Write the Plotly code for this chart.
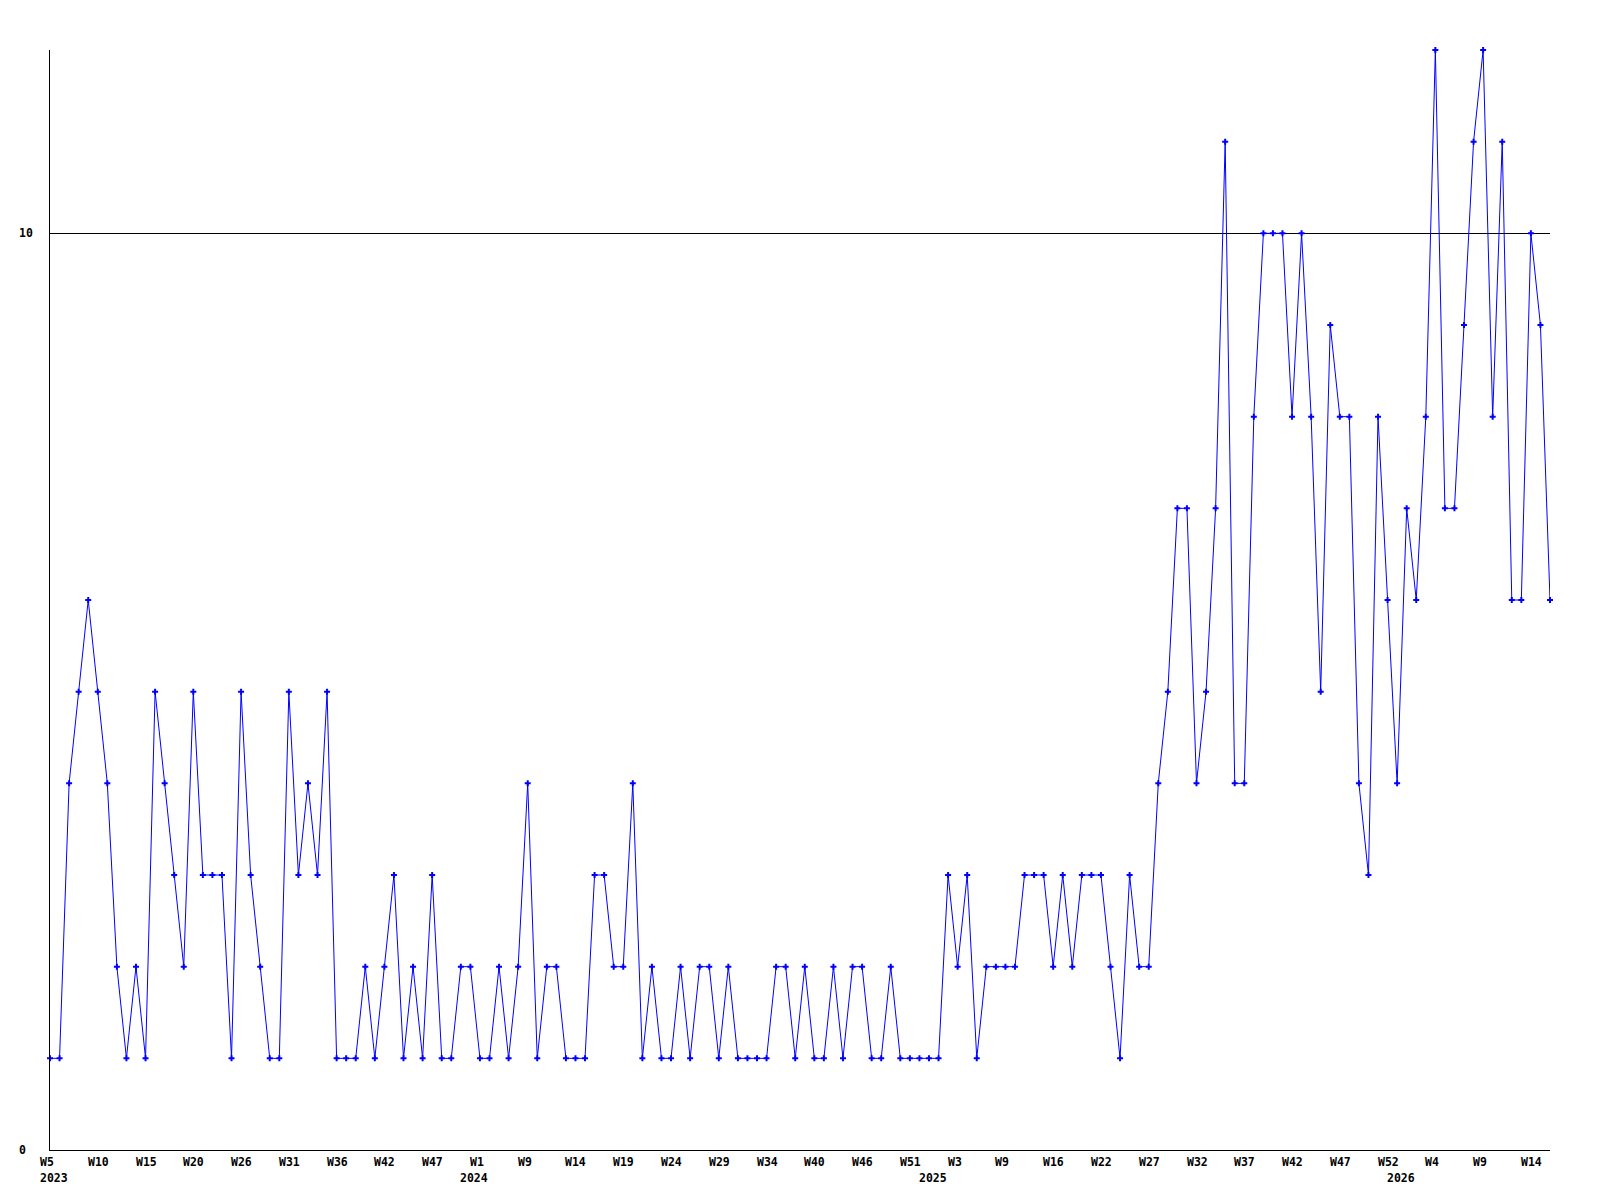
import plotly.graph_objects as go

# Weekly counts (one point per reported week, weeks without entries omitted)
counts = [
    1, 1, 4, 5, 6, 5, 4, 2, 1, 2, 1, 5, 4, 3, 2, 5, 3, 3, 3, 1,
    5, 3, 2, 1, 1, 5, 3, 4, 3, 5, 1, 1, 1, 2, 1, 2, 3, 1, 2, 1,
    3, 1, 1, 2, 2, 1, 1, 2, 1, 2, 4, 1, 2, 2, 1, 1, 1, 3, 3, 2,
    2, 4, 1, 2, 1, 1, 2, 1, 2, 2, 1, 2, 1, 1, 1, 1, 2, 2, 1, 2,
    1, 1, 2, 1, 2, 2, 1, 1, 2, 1, 1, 1, 1, 1, 3, 2, 3, 1, 2, 2,
    2, 2, 3, 3, 3, 2, 3, 2, 3, 3, 3, 2, 1, 3, 2, 2, 4, 5, 7, 7,
    4, 5, 7, 11, 4, 4, 8, 10, 10, 10, 8, 10, 8, 5, 9, 8, 8, 4, 3, 8,
    6, 4, 7, 6, 8, 12, 7, 7, 9, 11, 12, 8, 11, 6, 6, 10, 9, 6,
]
point_index = list(range(1, len(counts) + 1))

# Week tick labels, shown on every 5th point
week_labels = [
    "W5", "W10", "W15", "W20", "W26", "W31", "W36", "W42", "W47", "W1",
    "W9", "W14", "W19", "W24", "W29", "W34", "W40", "W46", "W51", "W3",
    "W9", "W16", "W22", "W27", "W32", "W37", "W42", "W47", "W52", "W4",
    "W9", "W14",
]
week_label_step = 5

# Year labels and the point where each year starts
year_labels = ["2023", "2024", "2025", "2026"]
year_start_points = [1, 45, 93, 142]

y_tick_values = [0, 10]
y_tick_labels = ["0", "10"]

FONT = dict(family="DejaVu Sans Mono", size=11.5, color="black")

fig = go.Figure()
fig.add_trace(go.Scatter(
    x=point_index,
    y=counts,
    mode="lines+markers",
    line=dict(color="#0000ff", width=1),
    marker=dict(symbol="cross", size=5, color="#0000ff", line=dict(width=0)),
    cliponaxis=False,
    showlegend=False,
    hoverinfo="x+y",
))

annotations = []
for k, lab in enumerate(week_labels):
    xi = 1 + k * week_label_step
    annotations.append(dict(
        x=xi, y=0, xref="x", yref="paper", text="<b>%s</b>" % lab,
        showarrow=False, xanchor="left", yanchor="top", xshift=-12, yshift=-3,
        font=FONT,
    ))
for lab, xi in zip(year_labels, year_start_points):
    annotations.append(dict(
        x=xi, y=0, xref="x", yref="paper", text="<b>%s</b>" % lab,
        showarrow=False, xanchor="left", yanchor="top", xshift=-12, yshift=-19,
        font=FONT,
    ))
for val, lab in zip(y_tick_values, y_tick_labels):
    annotations.append(dict(
        x=0, y=val, xref="paper", yref="y", text="<b>%s</b>" % lab,
        showarrow=False, xanchor="left", yanchor="middle", xshift=-33,
        font=FONT,
    ))

# page body has an 8px default margin; margins below compensate for it
fig.update_layout(
    width=1592,
    height=1192,
    margin=dict(l=42, r=50, t=42, b=50, pad=0),
    paper_bgcolor="white",
    plot_bgcolor="white",
    annotations=annotations,
    xaxis=dict(
        range=[1, len(counts)],
        showgrid=False,
        zeroline=False,
        showline=True,
        linecolor="black",
        linewidth=1,
        ticks="",
        showticklabels=False,
    ),
    yaxis=dict(
        range=[0, 12],
        tickvals=y_tick_values,
        showgrid=True,
        gridcolor="black",
        gridwidth=1,
        zeroline=False,
        showline=True,
        linecolor="black",
        linewidth=1,
        ticks="",
        showticklabels=False,
    ),
)

fig.write_html("out.html")
